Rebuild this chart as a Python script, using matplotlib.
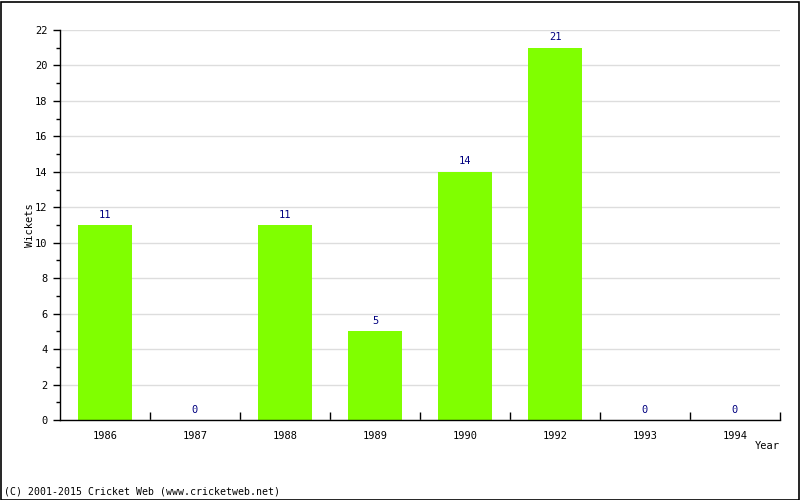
import matplotlib
matplotlib.use("Agg")
import matplotlib.pyplot as plt
from matplotlib.ticker import MultipleLocator
from matplotlib.patches import Rectangle

years = ["1986", "1987", "1988", "1989", "1990", "1992", "1993", "1994"]
wickets = [11, 0, 11, 5, 14, 21, 0, 0]

plt.rcParams['font.family'] = ['DejaVu Sans Mono']
fs = 7.5

fig = plt.figure(figsize=(8, 5), dpi=100)
ax = fig.add_axes([60/800, 80/500, 720/800, 390/500])

x = list(range(len(years)))
ax.bar(x, wickets, width=0.61, color="#80ff00", zorder=2)
for xi, v in zip(x, wickets):
    ax.text(xi, v + 0.3, str(v), ha="center", va="bottom", color="#000080", fontsize=fs)

ax.set_xlim(-0.5, len(years) - 0.5)
ax.set_ylim(0, 22)
ax.yaxis.set_major_locator(MultipleLocator(2))
ax.yaxis.set_minor_locator(MultipleLocator(1))
ax.grid(axis="y", which="major", color="#dddddd", linewidth=1, zorder=0)
ax.set_axisbelow(True)

ax.set_xticks([i + 0.5 for i in x])
ax.set_xticklabels([])
ax.set_xticks(x, minor=True)
ax.set_xticklabels(years, minor=True, fontsize=fs)
ax.tick_params(axis="x", which="major", direction="in", length=6, width=1, color="black")
ax.tick_params(axis="x", which="minor", length=0, pad=8)
ax.tick_params(axis="y", which="major", direction="out", length=5, width=1, labelsize=fs, pad=4)
ax.tick_params(axis="y", which="minor", direction="out", length=3, width=1)

for s in ["top", "right"]:
    ax.spines[s].set_visible(False)
ax.spines["left"].set_linewidth(1)
ax.spines["bottom"].set_linewidth(1)

fig.text(30/800, 1 - 225/500, "Wickets", rotation=90, ha="center", va="center", fontsize=fs)
fig.text(780/800, 1 - 446/500, "Year", ha="right", va="center", fontsize=fs)
fig.text(4/800, 1 - 492/500, "(C) 2001-2015 Cricket Web (www.cricketweb.net)", ha="left", va="center", fontsize=7.1)

fig.patches.append(Rectangle((0.5/800, 0.5/500), 798/800, 498/500, transform=fig.transFigure,
                             fill=False, edgecolor="black", linewidth=1.2))

fig.savefig("out.png", dpi=100)
